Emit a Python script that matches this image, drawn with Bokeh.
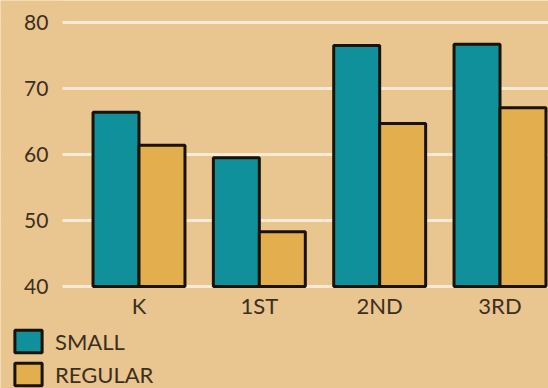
from bokeh.plotting import figure
from bokeh.models import Range1d, FixedTicker, Legend, LegendItem, ColumnDataSource, BoxAnnotation
from bokeh.transform import dodge
from bokeh.embed import file_html
from bokeh.resources import INLINE

# Class-size reading scores by grade
grades = ["K", "1ST", "2ND", "3RD"]
small = [66.4, 59.5, 76.5, 76.7]
regular = [61.4, 48.3, 64.7, 67.1]
y_ticks = [40, 50, 60, 70, 80]
series_names = ["SMALL", "REGULAR"]

BG = "#E9C58F"
TEAL = "#10909A"
GOLD = "#E3AF4E"
INK = "#3B2F1F"
EDGE = "#1A1208"
FONT = "Lato"

xs = list(range(len(grades)))
src = ColumnDataSource(dict(x=xs, small=small, regular=regular))

# the frame fills the whole canvas; axes sit inside it at fixed positions
X_LO, X_HI = -1.151, 3.403
Y_LO, Y_HI = 24.55, 83.33
AXIS_X = -0.636      # where the value axis (and the grid) begins
AXIS_Y = 40.9        # where the category labels hang from

p = figure(
    width=548, height=388,
    x_range=Range1d(X_LO, X_HI),
    y_range=Range1d(Y_LO, Y_HI),
    output_backend="svg", toolbar_location=None,
    min_border=0,
)
p.background_fill_color = BG
p.border_fill_color = BG
p.outline_line_color = None

p.xgrid.grid_line_color = None
p.ygrid.ticker = FixedTicker(ticks=y_ticks)
p.ygrid.grid_line_color = "#F7EBD6"
p.ygrid.grid_line_width = 3
# keep the grid lines from running under the value labels
p.add_layout(BoxAnnotation(right=AXIS_X, fill_color=BG, fill_alpha=1,
                           line_color=None, level="underlay"))

bar_w = 0.382
r_small = p.vbar(x=dodge("x", -bar_w / 2, range=p.x_range), top="small", bottom=y_ticks[0],
                 width=bar_w, source=src, fill_color=TEAL, line_color=EDGE, line_width=3)
r_reg = p.vbar(x=dodge("x", bar_w / 2, range=p.x_range), top="regular", bottom=y_ticks[0],
               width=bar_w, source=src, fill_color=GOLD, line_color=EDGE, line_width=3)

p.xaxis.ticker = FixedTicker(ticks=xs)
p.xaxis.major_label_overrides = {i: g for i, g in zip(xs, grades)}
p.xaxis.fixed_location = AXIS_Y
p.yaxis.ticker = FixedTicker(ticks=y_ticks)
p.yaxis.fixed_location = AXIS_X
for ax in (p.xaxis[0], p.yaxis[0]):
    ax.axis_line_color = None
    ax.major_tick_line_color = None
    ax.minor_tick_line_color = None
    ax.major_label_text_color = INK
    ax.major_label_text_font = FONT
ax_x, ax_y = p.xaxis[0], p.yaxis[0]
ax_x.major_label_text_font_size = "22px"
ax_y.major_label_text_font_size = "21px"
ax_x.major_label_standoff = 5
ax_y.major_label_standoff = 8

legend = Legend(
    items=[LegendItem(label=series_names[0], renderers=[r_small]),
           LegendItem(label=series_names[1], renderers=[r_reg])],
    location=(11, 0),
    glyph_width=34, glyph_height=28, spacing=5,
    padding=0, margin=0, label_standoff=10,
    label_text_font=FONT, label_text_font_size="22px", label_text_color=INK,
    background_fill_alpha=0, border_line_color=None,
)
p.add_layout(legend)

open("out.html", "w").write(file_html(p, INLINE))
